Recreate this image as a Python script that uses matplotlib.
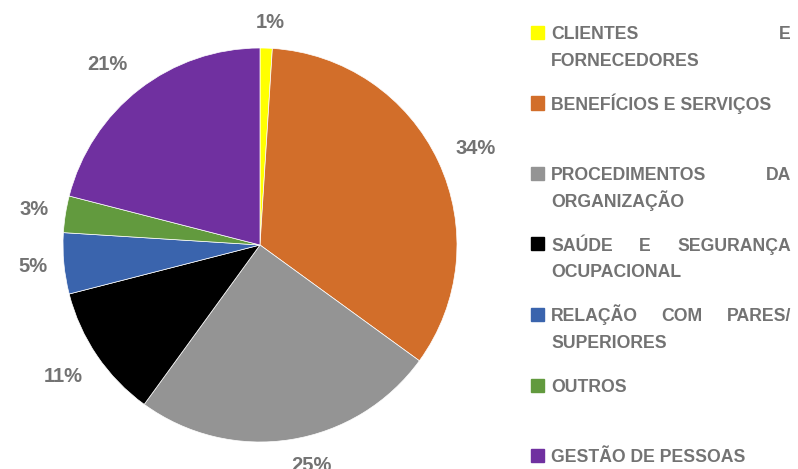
import matplotlib
matplotlib.use('Agg')
import matplotlib.pyplot as plt
import numpy as np
from matplotlib.patches import Rectangle

# dados do gráfico
categorias = ['CLIENTES E FORNECEDORES', 'BENEFÍCIOS E SERVIÇOS',
              'PROCEDIMENTOS DA ORGANIZAÇÃO', 'SAÚDE E SEGURANÇA OCUPACIONAL',
              'RELAÇÃO COM PARES/ SUPERIORES', 'OUTROS', 'GESTÃO DE PESSOAS']
valores = [1, 34, 25, 11, 5, 3, 21]
rotulos = ['1%', '34%', '25%', '11%', '5%', '3%', '21%']
# quebras de linha da legenda (como no original)
linhas_legenda = [['CLIENTES E', 'FORNECEDORES'],
                  ['BENEFÍCIOS E SERVIÇOS'],
                  ['PROCEDIMENTOS DA', 'ORGANIZAÇÃO'],
                  ['SAÚDE E SEGURANÇA', 'OCUPACIONAL'],
                  ['RELAÇÃO COM PARES/', 'SUPERIORES'],
                  ['OUTROS'],
                  ['GESTÃO DE PESSOAS']]
cores = ['#FFFF00', '#D26E2A', '#949494', '#000000', '#3A64AD', '#629A3E', '#7030A0']
# posição de cada rótulo: distância ao centro (em raios) e ajuste de ângulo (graus)
dist_rotulo = [1.13, 1.2, 1.15, 1.2, 1.16, 1.16, 1.2]
ajuste_ang = [-0.8, -1.2, 4, -0.4, 0, 0, 2.4]

cinza = '#737373'
fonte = 'Liberation Sans'

W, H = 798, 469
fig = plt.figure(figsize=(W / 100, H / 100), dpi=100)

# pizza: centro (260,245) px, raio 197 px
R = 197
cx, cy = 260, 245
lim = 1.2
lado = 2 * lim * R
ax = fig.add_axes([(cx - lado / 2) / W, (H - cy - lado / 2) / H, lado / W, lado / H])
fatias, _ = ax.pie(valores, colors=cores, startangle=90, counterclock=False, radius=1,
                   wedgeprops=dict(edgecolor='white', linewidth=0.5))
for f, txt, d, da in zip(fatias, rotulos, dist_rotulo, ajuste_ang):
    ang = np.deg2rad((f.theta1 + f.theta2) / 2 + da)
    ax.text(d * np.cos(ang), d * np.sin(ang), txt, color=cinza, fontsize=14.5,
            fontweight='bold', family=fonte, ha='center', va='center')
ax.set_xlim(-lim, lim)
ax.set_ylim(-lim, lim)
ax.set_aspect('equal')
ax.axis('off')

# legenda com texto justificado
renderer = fig.canvas.get_renderer()
x_quad = 531
x_txt = 551
x_fim = 791
y_ini = 39  # linha de base da primeira linha
passo = 70.5
entre_linhas = 26.5
fs_leg = 12.7


def fx(px):
    return px / W


def fy(py):
    return 1 - py / H


for i, linhas in enumerate(linhas_legenda):
    y0 = y_ini + passo * i
    fig.patches.append(Rectangle((fx(x_quad), fy(y0)), 13 / W, 13 / H,
                                 transform=fig.transFigure, color=cores[i]))
    for j, linha in enumerate(linhas):
        y = y0 + j * entre_linhas
        palavras = linha.split(' ')
        justificar = (j < len(linhas) - 1) and len(palavras) > 1
        if not justificar:
            fig.text(fx(x_txt), fy(y), linha, color=cinza, fontsize=fs_leg,
                     fontweight='bold', family=fonte, ha='left', va='baseline')
            continue
        objs = [fig.text(0, fy(y), p, color=cinza, fontsize=fs_leg, fontweight='bold',
                         family=fonte, ha='left', va='baseline') for p in palavras]
        larg = [o.get_window_extent(renderer).width for o in objs]
        gap = (x_fim - x_txt - sum(larg)) / (len(palavras) - 1)
        x = x_txt
        for o, w in zip(objs, larg):
            o.set_x(fx(x))
            x += w + gap

fig.savefig('out.png', dpi=100)
